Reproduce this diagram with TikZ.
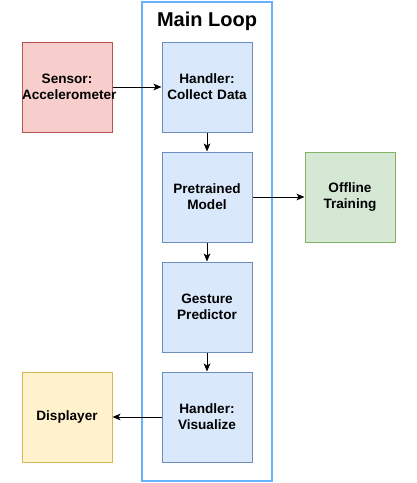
\documentclass[tikz,border=0pt]{standalone}
\usepackage{fontspec}
\setmainfont{Liberation Sans}
\usepackage{xcolor}
\usetikzlibrary{calc, arrows.meta}

\definecolor{loopblue}{HTML}{66B2FF}
\definecolor{procfill}{HTML}{DAE8FC}
\definecolor{procline}{HTML}{6C8EBF}
\definecolor{sensfill}{HTML}{F8CECC}
\definecolor{sensline}{HTML}{B85450}
\definecolor{trainfill}{HTML}{D5E8D4}
\definecolor{trainline}{HTML}{82B366}
\definecolor{dispfill}{HTML}{FFF2CC}
\definecolor{displine}{HTML}{D6B656}

\tikzset{
	block/.style={draw, line width=0.75pt, text width=67.5pt, minimum height=67.5pt,
		inner sep=0pt, align=center, font=\fontsize{10.2}{12}\selectfont\bfseries},
	proc/.style={block, fill=procfill, draw=procline},
	link/.style={-{Stealth[length=6pt,width=5pt,inset=1.5pt]}, line width=0.75pt}
}

\begin{document}
\begin{tikzpicture}[x=0.75pt, y=-0.75pt]
		\def\cx{207};
		
		\useasboundingbox (0,0) rectangle (417,483);
		
		\draw [loopblue, line width=1.5pt] (142,2) rectangle (272,481);
			\node (title) at (\cx,21) {\fontsize{15}{17}\selectfont\bfseries Main Loop};
		
		\node [proc] (collect) at (\cx,87) {Handler:\\Collect Data};
		\node [proc] (model) at (\cx,197) {Pretrained\\Model};
		\node [proc] (predict) at (\cx,307) {Gesture\\Predictor};
		\node [proc] (visual) at (\cx,417) {Handler:\\Visualize};
		
		\node [block, fill=sensfill, draw=sensline] (sensor) at (67,87) {Sensor:\\Accelerometer};
		\node [block, fill=trainfill, draw=trainline] (train) at (350,197) {Offline\\Training};
		\node [block, fill=dispfill, draw=displine] (disp) at (67,417) {Displayer};
		
		\draw [link] (sensor) -- (collect);
		\draw [link] (collect) -- (model);
		\draw [link] (model) -- (predict);
		\draw [link] (predict) -- (visual);
		\draw [link] (model) -- (train);
		\draw [link] (visual) -- (disp);
	\end{tikzpicture}
\end{document}
